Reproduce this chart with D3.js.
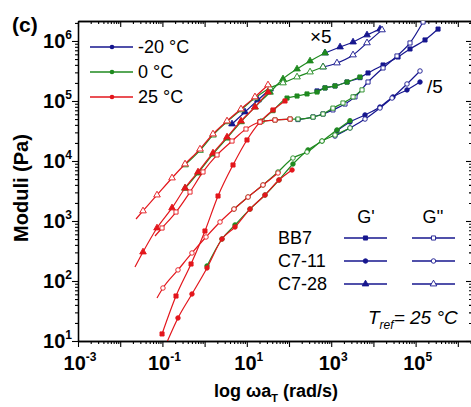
<!DOCTYPE html>
<html>
<head>
<meta charset="utf-8">
<script src="https://cdn.jsdelivr.net/npm/d3@7"></script>
<style>
  body { margin: 0; background: #fff; }
  svg { display: block; font-family: Arial, "Liberation Sans", sans-serif; }
</style>
</head>
<body>
<svg id="chart" width="471" height="407"></svg>
<script>
// master curves: [omega*aT (rad/s), modulus (Pa)]
// C7-28 (x5, triangles)
const c728_Gp_25  = [[0.0224,171],[0.0347,304],[0.0745,764],[0.169,1650],[0.344,3550],[0.698,6560],[1.58,1.36e4],[3.40,2.51e4],[7.29,4.64e4],[15.6,7.94e4],[31.8,1.41e5]];
const c728_Gp_0   = [[0.344,3500],[0.698,6300],[1.58,1.3e4],[3.40,2.4e4],[7.29,4.5e4],[15.6,7.9e4],[35.5,1.4e5],[72.1,2.33e5],[155,3.41e5],[315,4.64e5],[713,6.31e5]];
const c728_Gp_m20 = [[713,6.31e5],[1620,7.94e5],[3290,9.6e5],[7050,1.26e6],[14300,1.58e6]];
const c728_Gp_m20lo = [[4.46,4.14e4],[9.06,6.56e4],[18.4,1.04e5],[35.5,1.58e5]];
const c728_Gpp_25  = [[0.0237,1080],[0.0347,1470],[0.0745,2710],[0.169,5210],[0.344,8910],[0.778,1.58e4],[1.58,2.82e4],[3.40,4.64e4],[7.29,7.36e4],[15.6,1.17e5],[31.8,1.85e5]];
const c728_Gpp_0   = [[0.344,8600],[0.778,1.5e4],[1.58,2.7e4],[3.40,4.5e4],[7.29,7.1e4],[15.6,1.12e5],[35.5,1.65e5],[72.1,2.0e5],[155,2.51e5],[315,3.04e5],[640,3.69e5]];
const c728_Gpp_m20 = [[640,3.69e5],[1370,4.3e5],[3290,5.85e5],[7050,9.3e5],[16000,1.53e6]];

// BB7 (unshifted, squares)
const bb7_Gp_25  = [[0.098,13.1],[0.210,56.2],[0.477,192],[1.02,681],[2.08,2610],[4.71,8580],[10.1,2.24e4],[20.6,4.47e4],[41.8,7.08e4],[80.4,1.0e5]];
const bb7_Gp_0   = [[20.6,4.5e4],[41.8,6.9e4],[89.7,1.12e5],[155,1.21e5],[267,1.31e5],[461,1.41e5],[713,1.65e5],[1230,1.78e5],[2370,2.07e5],[4810,2.51e5]];
const bb7_Gp_m20 = [[461,1.47e5],[713,1.65e5],[1230,1.78e5],[2370,2.07e5],[4810,2.45e5],[7450,2.93e5],[16900,3.98e5],[38300,5.41e5],[73600,7.36e5],[1.67e5,1.04e6],[3.4e5,1.58e6]];
const bb7_Gpp_25  = [[0.0668,562],[0.098,764],[0.210,1410],[0.451,3040],[0.916,6560],[1.97,1.26e4],[4.46,2.15e4],[9.57,3.41e4],[20.6,4.47e4],[46.6,4.82e4],[106,5.0e4]];
const bb7_Gpp_0   = [[22.9,4.64e4],[46.6,4.82e4],[106,5.0e4],[163,5.0e4],[371,5.4e4],[640,6.07e4],[1100,7.6e4],[1900,9.26e4],[3290,1.17e5],[5370,1.53e5]];
const bb7_Gpp_m20 = [[163,4.9e4],[371,5.41e4],[640,6.07e4],[1100,7.1e4],[2120,8.9e4],[3660,1.17e5],[7450,2.07e5],[16900,3.55e5],[36200,5.62e5],[73600,9.26e5],[1.5e5,2.07e6]];

// C7-11 (/5, circles)
const c711_Gp_25  = [[0.1285,9.6],[0.234,24.2],[0.502,60.7],[1.14,165],[2.58,501],[5.25,794],[11.9,1580],[27.0,2710],[57.9,4820],[118,7080]];
const c711_Gp_0   = [[1.14,178],[2.58,501],[5.25,860],[11.9,1580],[27.0,2710],[57.9,4820],[124,8910],[282,1.53e4],[605,2.15e4],[1370,3.29e4],[2790,4.7e4]];
const c711_Gp_m20 = [[1370,3.2e4],[2790,4.47e4],[6320,5.85e4],[14300,7.94e4],[29100,1.17e5],[62500,1.53e5],[1.27e5,2.07e5]];
const c711_Gpp_25  = [[0.0745,52.1],[0.103,76.4],[0.234,153],[0.502,293],[1.08,541],[2.32,962],[4.97,1580],[10.7,2510],[24.2,3980],[54.9,6310]];
const c711_Gpp_0   = [[4.97,1580],[10.7,2510],[24.2,3980],[54.9,6560],[124,1.12e4],[267,1.41e4],[605,2.15e4],[1230,2.71e4],[2790,3.55e4]];
const c711_Gpp_m20 = [[1230,2.6e4],[2790,3.55e4],[6320,5.0e4],[14300,7.64e4],[27600,1.12e5],[62500,1.92e5],[1.27e5,3.16e5]];

const temps = ["-20 °C", "0 °C", "25 °C"];
const samples = ["BB7", "C7-11", "C7-28"];
const xLabelExp = [-3, -1, 1, 3, 5];
const yLabelExp = [1, 2, 3, 4, 5, 6];

const color = { m20: "#16168e", t0: "#1f8a1f", t25: "#e3161c" };
const navy = "#16168e";

const series = [
  { d: c728_Gp_m20lo, c: "m20", s: "tri", open: false },
  { d: c728_Gp_m20,  c: "m20", s: "tri", open: false },
  { d: c728_Gpp_m20, c: "m20", s: "tri", open: true },
  { d: bb7_Gp_m20,   c: "m20", s: "sq",  open: false },
  { d: bb7_Gpp_m20,  c: "m20", s: "sq",  open: true },
  { d: c711_Gp_m20,  c: "m20", s: "cir", open: false },
  { d: c711_Gpp_m20, c: "m20", s: "cir", open: true },
  { d: c728_Gp_0,    c: "t0",  s: "tri", open: false },
  { d: c728_Gpp_0,   c: "t0",  s: "tri", open: true },
  { d: bb7_Gp_0,     c: "t0",  s: "sq",  open: false },
  { d: bb7_Gpp_0,    c: "t0",  s: "sq",  open: true },
  { d: c711_Gp_0,    c: "t0",  s: "cir", open: false },
  { d: c711_Gpp_0,   c: "t0",  s: "cir", open: true },
  { d: c728_Gp_25,   c: "t25", s: "tri", open: false, lead: true },
  { d: c728_Gpp_25,  c: "t25", s: "tri", open: true,  lead: true },
  { d: bb7_Gp_25,    c: "t25", s: "sq",  open: false },
  { d: bb7_Gpp_25,   c: "t25", s: "sq",  open: true,  lead: true },
  { d: c711_Gp_25,   c: "t25", s: "cir", open: false, lead: true },
  { d: c711_Gpp_25,  c: "t25", s: "cir", open: true,  lead: true }
];

const svg = d3.select("#chart");
const mLeft = 78, mRight = 472, mTop = 21, mBottom = 341;

const x = d3.scaleLog().domain([1e-3, Math.pow(10, 6.336)]).range([mLeft, mRight]);
const y = d3.scaleLog().domain([10, Math.pow(10, 6.333)]).range([mBottom, mTop]);

const shapes = {
  sq: d3.symbol().type(d3.symbolSquare).size(17),
  cir: d3.symbol().type(d3.symbolCircle).size(16),
  tri: d3.symbol().type(d3.symbolTriangle).size(19)
};

// minor ticks
function minors(lo, hi) {
  const out = [];
  for (let e = Math.floor(Math.log10(lo)); e <= Math.ceil(Math.log10(hi)); e++)
    for (let k = 2; k <= 9; k++) {
      const v = k * Math.pow(10, e);
      if (v > lo && v < hi) out.push(v);
    }
  return out;
}
const xMaj = d3.range(-3, 7).map(e => Math.pow(10, e));
const yMaj = d3.range(1, 7).map(e => Math.pow(10, e));
const xMin = minors(...x.domain());
const yMin = minors(...y.domain());

function axis(g, gen, vals, size) {
  g.call(gen.tickValues(vals).tickFormat("").tickSize(size).tickSizeOuter(0));
  g.select(".domain").attr("stroke", "#000").attr("stroke-width", 1.3);
  g.selectAll(".tick line").attr("stroke", "#000").attr("stroke-width", 1.1);
}

svg.append("g").attr("transform", `translate(0,${mBottom})`).call(g => axis(g, d3.axisBottom(x), xMaj, 6));
svg.append("g").attr("transform", `translate(0,${mBottom})`).call(g => axis(g, d3.axisBottom(x), xMin, 3));
svg.append("g").attr("transform", `translate(0,${mTop})`).call(g => axis(g, d3.axisBottom(x), xMaj, 6));
svg.append("g").attr("transform", `translate(0,${mTop})`).call(g => axis(g, d3.axisBottom(x), xMin, 3));
svg.append("g").attr("transform", `translate(${mLeft},0)`).call(g => axis(g, d3.axisLeft(y), yMaj, 6));
svg.append("g").attr("transform", `translate(${mLeft},0)`).call(g => axis(g, d3.axisLeft(y), yMin, 3));
svg.append("g").attr("transform", `translate(${mRight},0)`).call(g => axis(g, d3.axisLeft(y), yMaj, 6));
svg.append("g").attr("transform", `translate(${mRight},0)`).call(g => axis(g, d3.axisLeft(y), yMin, 3));

// tick labels
const xl = svg.append("g").attr("font-weight", "bold").attr("text-anchor", "middle");
xLabelExp.forEach(e => {
  const t = xl.append("text").attr("x", x(Math.pow(10, e)) + 2).attr("y", 370).attr("font-size", 20);
  t.append("tspan").text("10");
  t.append("tspan").attr("font-size", 12).attr("dy", -9).text(e);
});
const yl = svg.append("g").attr("font-weight", "bold").attr("text-anchor", "end");
yLabelExp.forEach(e => {
  const t = yl.append("text").attr("x", 72).attr("y", y(Math.pow(10, e)) + 7).attr("font-size", 20);
  t.append("tspan").text("10");
  t.append("tspan").attr("font-size", 12).attr("dy", -9).text(e);
});

// titles
svg.append("text").attr("transform", "translate(28,188) rotate(-90)")
  .attr("text-anchor", "middle").attr("font-weight", "bold").attr("font-size", 20).text("Moduli (Pa)");
const xt = svg.append("text").attr("x", 276).attr("y", 397).attr("text-anchor", "middle")
  .attr("font-weight", "bold").attr("font-size", 18);
xt.append("tspan").text("log ωa");
xt.append("tspan").attr("font-size", 11).attr("dy", 5).text("T");
xt.append("tspan").attr("dy", -5).text(" (rad/s)");
svg.append("text").attr("x", 12).attr("y", 32).attr("font-weight", "bold").attr("font-size", 21).text("(c)");

// data
svg.append("clipPath").attr("id", "plot").append("rect")
  .attr("x", mLeft).attr("y", mTop).attr("width", mRight - mLeft).attr("height", mBottom - mTop);
const plot = svg.append("g").attr("clip-path", "url(#plot)");
const line = d3.line().x(d => x(d[0])).y(d => y(d[1])).curve(d3.curveMonotoneX);

series.forEach(s => {
  const col = color[s.c];
  plot.append("path").attr("d", line(s.d)).attr("fill", "none").attr("stroke", col).attr("stroke-width", 1.2);
  plot.selectAll(null).data(s.lead ? s.d.slice(1) : s.d).enter().append("path")
    .attr("d", shapes[s.s])
    .attr("transform", d => `translate(${x(d[0])},${y(d[1])})`)
    .attr("fill", s.open ? "#fff" : col)
    .attr("stroke", col).attr("stroke-width", 0.9);
});

// shift annotations
svg.append("text").attr("x", 310).attr("y", 43).attr("font-size", 19).text("×5");
svg.append("text").attr("x", 427).attr("y", 93).attr("font-size", 19).text("/5");

// temperature legend
const tl = svg.append("g");
["m20", "t0", "t25"].forEach((k, i) => {
  const yy = 47 + i * 25;
  tl.append("line").attr("x1", 90).attr("x2", 133).attr("y1", yy).attr("y2", yy)
    .attr("stroke", color[k]).attr("stroke-width", 1.5);
  tl.append("circle").attr("cx", 112).attr("cy", yy).attr("r", 2.3).attr("fill", color[k]);
  tl.append("text").attr("x", 138).attr("y", yy + 6).attr("font-size", 18).text(temps[i]);
});

// sample legend
const sl = svg.append("g");
sl.append("text").attr("x", 366).attr("y", 223).attr("font-size", 18).attr("text-anchor", "middle").text("G'");
sl.append("text").attr("x", 433).attr("y", 223).attr("font-size", 18).attr("text-anchor", "middle").text("G''");
["sq", "cir", "tri"].forEach((sh, i) => {
  const yy = 238 + i * 23;
  sl.append("text").attr("x", 278).attr("y", yy + 6).attr("font-size", 18).text(samples[i]);
  [[344, 387, false], [412, 455, true]].forEach(([a, b, open]) => {
    sl.append("line").attr("x1", a).attr("x2", b).attr("y1", yy).attr("y2", yy)
      .attr("stroke", navy).attr("stroke-width", 1.5);
    sl.append("path").attr("d", shapes[sh]).attr("transform", `translate(${(a + b) / 2},${yy})`)
      .attr("fill", open ? "#fff" : navy).attr("stroke", navy).attr("stroke-width", 0.9);
  });
});

const tr = svg.append("text").attr("x", 368).attr("y", 324).attr("font-size", 19).attr("font-style", "italic");
tr.append("tspan").text("T");
tr.append("tspan").attr("font-size", 12).attr("dy", 5).text("ref");
tr.append("tspan").attr("dy", -5).text("= 25 °C");
</script>
</body>
</html>
